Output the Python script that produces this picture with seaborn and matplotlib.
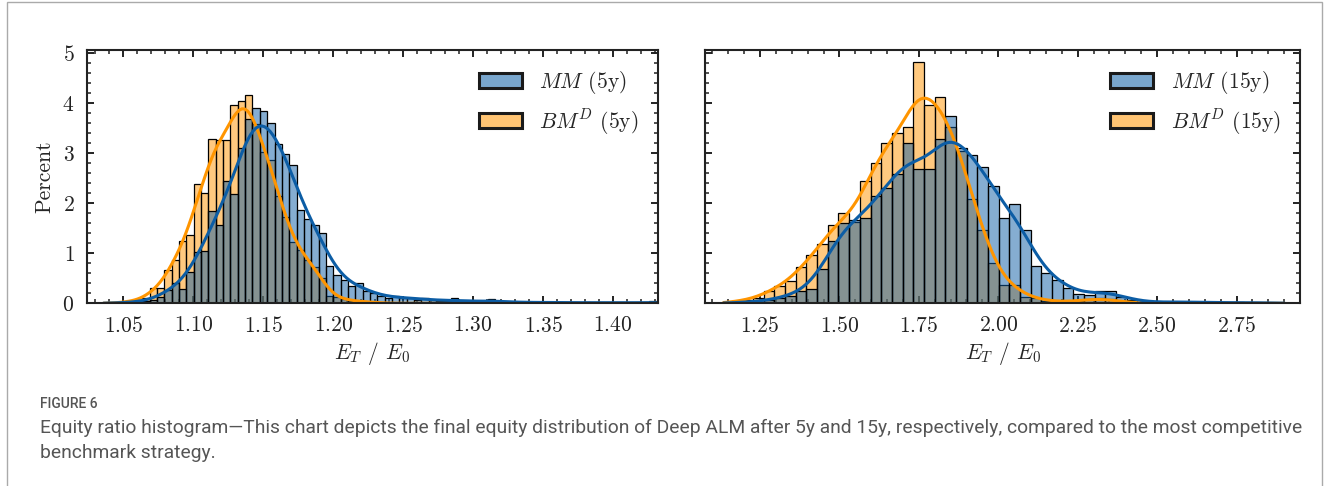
import numpy as np
import pandas as pd
import matplotlib
matplotlib.use("Agg")
import matplotlib.pyplot as plt
import seaborn as sns
from matplotlib.colors import to_rgb
from matplotlib.patches import Patch, Rectangle
from matplotlib.ticker import MultipleLocator

# percent of all paths per bin (each series sums to ~50)
mm_5y = [0.01, 0.01, 0.02, 0.03, 0.04, 0.07, 0.13, 0.27, 0.40, 0.28,
         0.63, 1.02, 1.05, 1.85, 1.57, 2.45, 2.20, 3.12, 3.70, 3.92,
         3.85, 3.61, 3.20, 2.99, 2.77, 1.87, 1.68, 1.57, 1.40, 0.74,
         0.56, 0.46, 0.35, 0.40, 0.24, 0.21, 0.14, 0.11, 0.15, 0.10,
         0.11, 0.07, 0.11, 0.06, 0.05, 0.04, 0.10, 0.04, 0.03, 0.03,
         0.04, 0.09, 0.03, 0.02, 0.03, 0.02, 0.02, 0.01, 0.02, 0.02,
         0.02, 0.01, 0.01, 0.01, 0.02, 0.01, 0.01, 0.01, 0.01, 0.01,
         0.01, 0.01, 0.01, 0.04]
bm_5y = [0.01, 0.02, 0.04, 0.07, 0.10, 0.31, 0.30, 0.66, 0.87, 1.24,
         1.37, 2.40, 2.21, 3.30, 3.27, 3.28, 3.97, 4.05, 4.18, 3.60,
         3.03, 2.87, 2.15, 1.73, 1.23, 1.07, 0.87, 0.72, 0.50, 0.15,
         0.12, 0.08, 0.05, 0.04, 0.03, 0.02, 0.01, 0, 0, 0,
         0, 0, 0, 0, 0, 0, 0, 0, 0, 0,
         0, 0, 0, 0, 0, 0, 0, 0, 0, 0,
         0, 0, 0, 0, 0, 0, 0, 0, 0, 0,
         0, 0, 0, 0]
range_5y = (1.0425, 1.431)

mm_15y = [0.02, 0.02, 0.03, 0.07, 0.10, 0.15, 0.25, 0.28, 0.68, 1.24,
          1.61, 1.66, 1.71, 2.15, 2.30, 2.58, 3.20, 2.68, 2.68, 3.28,
          3.73, 3.10, 2.96, 2.73, 2.35, 1.71, 1.99, 1.46, 0.75, 0.60,
          0.47, 0.30, 0.19, 0.17, 0.25, 0.25, 0.13, 0.07, 0.03, 0.02,
          0.02, 0.03, 0.03, 0.02, 0.02, 0.01, 0.01, 0.02, 0.01, 0.01,
          0.01]
bm_15y = [0.05, 0.07, 0.10, 0.25, 0.35, 0.44, 0.72, 0.96, 1.19, 1.56,
          1.80, 1.62, 2.45, 2.80, 3.20, 3.40, 3.51, 4.82, 3.95, 4.11,
          3.52, 3.05, 2.08, 1.46, 0.80, 0.37, 0.37, 0.12, 0.10, 0.05,
          0.03, 0.03, 0.05, 0.08, 0.10, 0.08, 0.03, 0.01, 0, 0,
          0, 0, 0, 0, 0, 0, 0, 0, 0, 0,
          0]
range_15y = (1.161, 2.875)

labels_5y = [r"$MM$ (5y)", r"$BM^D$ (5y)"]
labels_15y = [r"$MM$ (15y)", r"$BM^D$ (15y)"]
colors = ["#0C5DA5", "#FF9500"]

caption_title = "FIGURE 6"
caption_text = ("Equity ratio histogram\u2014This chart depicts the final equity distribution of "
                "Deep ALM after 5y and 15y, respectively, compared to the most competitive\n"
                "benchmark strategy.")


def to_frame(h_a, h_b, labels, lo, hi):
    n = len(h_a)
    w = (hi - lo) / n
    centers = lo + w * (np.arange(n) + 0.5)
    return pd.DataFrame({
        "ratio": np.concatenate([centers, centers]),
        "pct": np.concatenate([h_a, h_b]),
        "strategy": [labels[0]] * n + [labels[1]] * n,
    })


sns.set_style("ticks")
plt.rcParams.update({
    "font.family": "serif",
    "font.serif": ["cmr10"],
    "mathtext.fontset": "cm",
    "axes.formatter.use_mathtext": True,
    "font.size": 15.5,
    "axes.linewidth": 1.5,
    "axes.edgecolor": "#222222",
    "xtick.color": "#222222", "ytick.color": "#222222",
    "xtick.direction": "in", "ytick.direction": "in",
    "xtick.top": True, "ytick.right": True,
    "xtick.major.size": 5, "ytick.major.size": 5,
    "xtick.minor.size": 2.6, "ytick.minor.size": 2.6,
    "xtick.major.width": 1.4, "ytick.major.width": 1.4,
    "xtick.minor.width": 1.1, "ytick.minor.width": 1.1,
    "xtick.major.pad": 9, "ytick.major.pad": 9,
    "axes.labelpad": 3,
})

fig = plt.figure(figsize=(13.3, 4.86), dpi=100)
ax1 = fig.add_axes([0.0654, 0.3759, 0.4293, 0.5212])
ax2 = fig.add_axes([0.5301, 0.3759, 0.4474, 0.5212])

panels = [
    (ax1, mm_5y, bm_5y, labels_5y, range_5y, 0.45, (1.024, 1.432), 0.05, 0.01),
    (ax2, mm_15y, bm_15y, labels_15y, range_15y, 0.43, (1.077, 2.95), 0.25, 0.05),
]

for ax, h_mm, h_bm, labels, rng, bw, xlim, major, minor in panels:
    df = to_frame(h_mm, h_bm, labels, *rng)
    sns.histplot(data=df, x="ratio", weights="pct", hue="strategy",
                 hue_order=labels, palette=dict(zip(labels, colors)),
                 bins=len(h_mm), binrange=rng, stat="percent", common_norm=True,
                 kde=True, kde_kws={"bw_adjust": bw, "cut": 0.5},
                 line_kws={"lw": 2.2}, alpha=0.5, edgecolor="black",
                 linewidth=0.9, legend=False, ax=ax)
    ax.set_xlim(*xlim)
    ax.set_ylim(0, 5.066)
    ax.xaxis.set_major_locator(MultipleLocator(major))
    ax.xaxis.set_minor_locator(MultipleLocator(minor))
    ax.yaxis.set_major_locator(MultipleLocator(1))
    ax.yaxis.set_minor_locator(MultipleLocator(0.2))
    ax.set_xlabel(r"$E_T$ / $E_0$")
    handles = [Patch(facecolor=(*to_rgb(c), 0.55), edgecolor="#1a1a1a",
                     linewidth=2.2, label=l) for c, l in zip(colors, labels)]
    ax.legend(handles=handles, loc="upper right", frameon=False)

ax1.set_ylabel("Percent", labelpad=6)
ax2.set_ylabel("")
ax2.tick_params(labelleft=False)

fig.text(40 / 1330, 1 - 404 / 486, caption_title, family="Roboto",
         fontsize=10, color="#555555", va="center", weight="medium")
fig.text(40 / 1330, 1 - 440 / 486, caption_text, family="Roboto",
         fontsize=13.85, color="#555555", va="center", linespacing=1.5)
fig.add_artist(Rectangle((7 / 1330, -0.05), 1315 / 1330, 1.045, transform=fig.transFigure,
                         fill=False, edgecolor="#aaaaaa", lw=1))

fig.savefig("out.png", dpi=100)
